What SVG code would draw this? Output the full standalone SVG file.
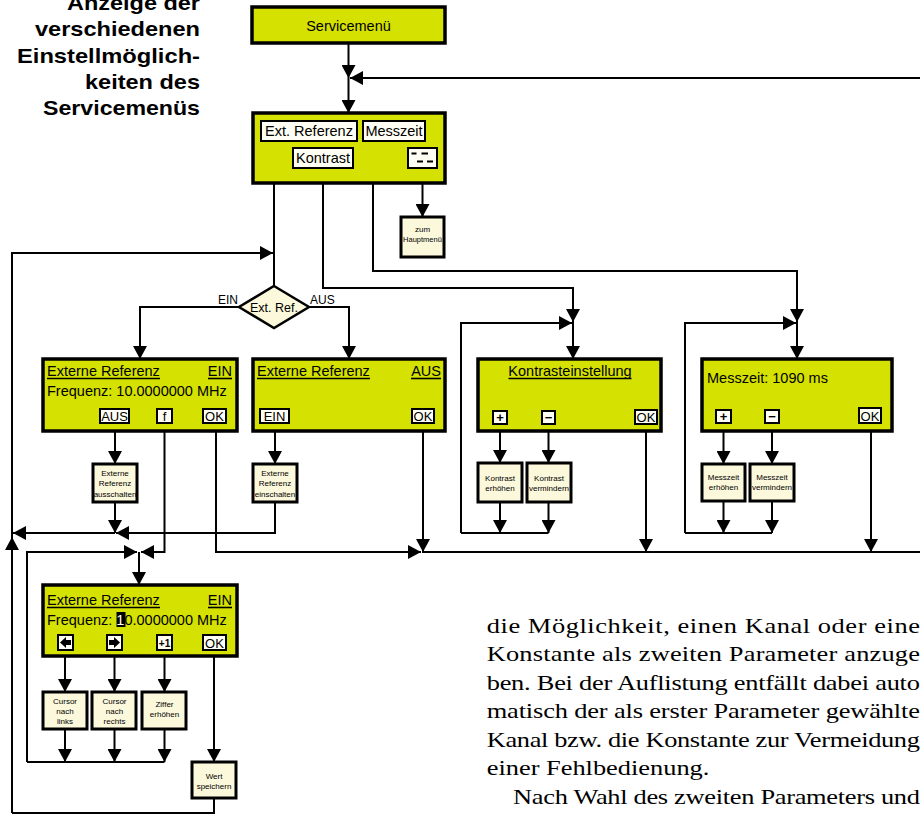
<svg xmlns="http://www.w3.org/2000/svg" width="920" height="814" viewBox="0 0 920 814">
<style>
.ln{fill:none;stroke:#000;stroke-width:2}
.ar{marker-end:url(#a)}
.lcd{fill:#d5e100;stroke:#000;stroke-width:3.5}
.sub{fill:#fcf8dc;stroke:#000;stroke-width:3}
.btn{fill:#fffef4;stroke:#000;stroke-width:2}
.t{font-family:"Liberation Sans",Arial,sans-serif;font-size:14.5px;fill:#000}
.b{font-size:13px;text-anchor:middle}
.s{font-family:"Liberation Sans",Arial,sans-serif;font-size:8px;text-anchor:middle;fill:#000}
.m{text-anchor:middle}
.e{text-anchor:end}
.ul{stroke:#000;stroke-width:1.6}
.ttl{font-family:"Liberation Sans",Arial,sans-serif;font-weight:bold;font-size:21px;text-anchor:end;fill:#000}
.par{font-family:"Liberation Serif","Times New Roman",serif;font-size:22px;fill:#000}
</style>
<defs>
<marker id="a" viewBox="0 0 13 14" refX="13" refY="7" markerWidth="13" markerHeight="14" markerUnits="userSpaceOnUse" orient="auto"><path d="M0,0 L13,7 L0,14 Z" fill="#000"/></marker>
</defs>
<rect width="920" height="814" fill="#fff"/>

<g id="caption">
<text class="ttl" x="200" y="9.5" textLength="133" lengthAdjust="spacingAndGlyphs">Anzeige der</text>
<text class="ttl" x="200" y="36" textLength="165" lengthAdjust="spacingAndGlyphs">verschiedenen</text>
<text class="ttl" x="200" y="62.5" textLength="183" lengthAdjust="spacingAndGlyphs">Einstellmöglich-</text>
<text class="ttl" x="200" y="89" textLength="115" lengthAdjust="spacingAndGlyphs">keiten des</text>
<text class="ttl" x="200" y="115" textLength="157" lengthAdjust="spacingAndGlyphs">Servicemenüs</text>
</g>

<g id="connectors">
<path class="ln ar" d="M348.5,43 V78"/>
<path class="ln ar" d="M920,78 H350"/>
<path class="ln ar" d="M348.5,78 V113"/>
<path class="ln ar" d="M274,141 V183"/>
<path class="ln ar" d="M323,168 V183"/>
<path class="ln ar" d="M373,141 V183"/>
<path class="ln ar" d="M422.5,168 V183"/>
<path class="ln" d="M274,183 V286"/>
<path class="ln ar" d="M12,813 V537"/>
<path class="ln ar" d="M12,537 V253 H273"/>
<path class="ln ar" d="M323,183 V288 H573 V322"/>
<path class="ln ar" d="M373,183 V271 H797 V322"/>
<path class="ln ar" d="M422.5,183 V217"/>
<path class="ln ar" d="M461,533 V323 H572"/>
<path class="ln ar" d="M573,322 V359"/>
<path class="ln ar" d="M685,533 V323 H796"/>
<path class="ln ar" d="M797,322 V359"/>
<path class="ln ar" d="M239,307 H140 V359"/>
<path class="ln ar" d="M309,307 H349 V359"/>
<path class="ln ar" d="M115,423 V464"/>
<path class="ln ar" d="M115,502 V533"/>
<path class="ln ar" d="M275,502 V533 H116"/>
<path class="ln ar" d="M115,533 H13"/>
<path class="ln ar" d="M164.5,423 V552 H141"/>
<path class="ln ar" d="M27,762 V552 H137"/>
<path class="ln ar" d="M139,552 V585"/>
<path class="ln ar" d="M216,423 V552 H421"/>
<path class="ln" d="M422,552 H920"/>
<path class="ln ar" d="M275,423 V464"/>
<path class="ln ar" d="M423,423 V552"/>
<path class="ln ar" d="M500,424 V463"/>
<path class="ln ar" d="M548.5,424 V463"/>
<path class="ln ar" d="M500,502 V533"/>
<path class="ln ar" d="M548.5,502 V533"/>
<path class="ln" d="M461,533 H548.5"/>
<path class="ln ar" d="M646,424 V552"/>
<path class="ln ar" d="M723.5,423 V464"/>
<path class="ln ar" d="M772,423 V464"/>
<path class="ln ar" d="M723.5,501 V533"/>
<path class="ln ar" d="M772,501 V533"/>
<path class="ln" d="M685,533 H772"/>
<path class="ln ar" d="M871,423 V552"/>
<path class="ln ar" d="M65,650 V692"/>
<path class="ln ar" d="M114.5,650 V692"/>
<path class="ln ar" d="M164.5,650 V692"/>
<path class="ln ar" d="M214,650 V762"/>
<path class="ln ar" d="M65,729 V762"/>
<path class="ln ar" d="M114.5,729 V762"/>
<path class="ln ar" d="M164.5,729 V762"/>
<path class="ln" d="M27,762 H164.5"/>
<path class="ln" d="M214,798 V813 H12"/>
</g>

<g id="servicemenue">
<rect class="lcd" x="252" y="7" width="193" height="36"/>
<text class="t m" x="348.5" y="30.5">Servicemenü</text>
</g>

<g id="servicemenue-auswahl">
<rect class="lcd" x="253" y="113" width="192" height="70"/>
<rect class="btn" x="261" y="121" width="96" height="20"/>
<text class="t m" x="309" y="136">Ext. Referenz</text>
<rect class="btn" x="363" y="121" width="62" height="20"/>
<text class="t m" x="394" y="136">Messzeit</text>
<rect class="btn" x="293" y="148" width="60" height="20"/>
<text class="t m" x="323" y="163">Kontrast</text>
<rect class="btn" x="408" y="148" width="29" height="20"/>
<path d="M411.5,153.5 H416.5 M421.5,153.5 H428 M417,161.5 H423 M427,161.5 H433" stroke="#000" stroke-width="2"/>
</g>

<g id="zum-hauptmenue">
<rect class="sub" x="401" y="217" width="43" height="40"/>
<text class="s" x="422.5" y="232" font-size="7.5">zum</text>
<text class="s" x="422.5" y="242" style="font-size:7.5px">Hauptmenü</text>
</g>

<g id="ext-ref-entscheidung">
<polygon points="274,286 309,307 274,328 239,307" fill="#fcf8dc" stroke="#000" stroke-width="2.5"/>
<text class="t m" x="274" y="312" style="font-size:12.5px">Ext. Ref.</text>
<text class="t e" x="238" y="304" style="font-size:12px">EIN</text>
<text class="t" x="310" y="304" style="font-size:12px">AUS</text>
</g>

<g id="ext-ref-ein">
<rect class="lcd" x="43" y="359" width="194" height="72"/>
<text class="t" x="47" y="376">Externe Referenz</text>
<line class="ul" x1="47" y1="378.5" x2="160" y2="378.5"/>
<text class="t e" x="232" y="376">EIN</text>
<line class="ul" x1="208" y1="378.5" x2="232" y2="378.5"/>
<text class="t" x="47" y="396">Frequenz: 10.0000000 MHz</text>
<rect class="btn" x="100" y="409" width="29" height="14"/>
<text class="t b" x="114.5" y="421">AUS</text>
<rect class="btn" x="157" y="409" width="15" height="14"/>
<text class="t b" x="164.5" y="421">f</text>
<rect class="btn" x="203" y="409" width="23" height="14"/>
<text class="t b" x="214.5" y="421">OK</text>
</g>

<g id="ext-ref-ausschalten">
<rect class="sub" x="93" y="464" width="44" height="38"/>
<text class="s" x="115" y="475.5">Externe</text>
<text class="s" x="115" y="486">Referenz</text>
<text class="s" x="115" y="496.5">ausschalten</text>
</g>

<g id="ext-ref-aus">
<rect class="lcd" x="253" y="359" width="192" height="72"/>
<text class="t" x="257" y="376">Externe Referenz</text>
<line class="ul" x1="257" y1="378.5" x2="370" y2="378.5"/>
<text class="t e" x="441" y="376">AUS</text>
<line class="ul" x1="411" y1="378.5" x2="441" y2="378.5"/>
<rect class="btn" x="260" y="409" width="29" height="14"/>
<text class="t b" x="274.5" y="421">EIN</text>
<rect class="btn" x="412" y="409" width="22" height="14"/>
<text class="t b" x="423" y="421">OK</text>
</g>

<g id="ext-ref-einschalten">
<rect class="sub" x="253" y="464" width="44" height="38"/>
<text class="s" x="275" y="475.5">Externe</text>
<text class="s" x="275" y="486">Referenz</text>
<text class="s" x="275" y="496.5">einschalten</text>
</g>

<g id="kontrasteinstellung">
<rect class="lcd" x="478" y="359" width="183" height="72"/>
<text class="t m" x="570" y="376">Kontrasteinstellung</text>
<line class="ul" x1="508.5" y1="378.5" x2="631.5" y2="378.5"/>
<rect class="btn" x="493" y="411" width="14" height="13"/>
<text class="t b" x="500" y="422" font-weight="bold">+</text>
<rect class="btn" x="542" y="411" width="13" height="13"/>
<text class="t b" x="548.5" y="422" font-weight="bold">−</text>
<rect class="btn" x="635" y="410" width="22" height="14"/>
<text class="t b" x="646" y="422">OK</text>
</g>

<g id="kontrast-erhoehen">
<rect class="sub" x="478" y="463" width="44" height="39"/>
<text class="s" x="500" y="480.5">Kontrast</text>
<text class="s" x="500" y="490.5">erhöhen</text>
</g>

<g id="kontrast-vermindern">
<rect class="sub" x="527" y="463" width="44" height="39"/>
<text class="s" x="549" y="480.5">Kontrast</text>
<text class="s" x="549" y="490.5">vermindern</text>
</g>

<g id="messzeit">
<rect class="lcd" x="702" y="359" width="190" height="72"/>
<text class="t" x="707" y="383">Messzeit: 1090 ms</text>
<rect class="btn" x="716" y="410" width="15" height="13"/>
<text class="t b" x="723.5" y="421" font-weight="bold">+</text>
<rect class="btn" x="765" y="410" width="14" height="13"/>
<text class="t b" x="772" y="421" font-weight="bold">−</text>
<rect class="btn" x="859" y="408" width="22" height="15"/>
<text class="t b" x="870" y="420.5">OK</text>
</g>

<g id="messzeit-erhoehen">
<rect class="sub" x="702" y="464" width="43" height="37"/>
<text class="s" x="723.5" y="480">Messzeit</text>
<text class="s" x="723.5" y="490">erhöhen</text>
</g>

<g id="messzeit-vermindern">
<rect class="sub" x="750" y="464" width="44" height="37"/>
<text class="s" x="772" y="480">Messzeit</text>
<text class="s" x="772" y="490">vermindern</text>
</g>

<g id="frequenz-eingabe">
<rect class="lcd" x="43" y="585" width="194" height="71"/>
<text class="t" x="47" y="605">Externe Referenz</text>
<line class="ul" x1="47" y1="607.5" x2="160" y2="607.5"/>
<text class="t e" x="232" y="605">EIN</text>
<line class="ul" x1="208" y1="607.5" x2="232" y2="607.5"/>
<rect x="116.5" y="612" width="9" height="15" fill="#000"/>
<text class="t" x="47" y="625">Frequenz: <tspan fill="#fff">1</tspan>0.0000000 MHz</text>
<rect class="btn" x="58" y="635" width="15" height="15"/>
<path d="M60,642.5 L66,637 V640 H71 V645 H66 V648 Z" fill="#000"/>
<rect class="btn" x="107" y="635" width="15" height="15"/>
<path d="M120,642.5 L114,637 V640 H109 V645 H114 V648 Z" fill="#000"/>
<rect class="btn" x="157" y="635" width="15" height="15"/>
<text class="t b" x="164.5" y="646.5" style="font-size:10px" font-weight="bold">+1</text>
<rect class="btn" x="203" y="635" width="23" height="15"/>
<text class="t b" x="214.5" y="647.5">OK</text>
</g>

<g id="cursor-links">
<rect class="sub" x="43" y="692" width="44" height="37"/>
<text class="s" x="65" y="703.5">Cursor</text>
<text class="s" x="65" y="713.5">nach</text>
<text class="s" x="65" y="723.5">links</text>
</g>
<g id="cursor-rechts">
<rect class="sub" x="92" y="692" width="44" height="37"/>
<text class="s" x="114.5" y="703.5">Cursor</text>
<text class="s" x="114.5" y="713.5">nach</text>
<text class="s" x="114.5" y="723.5">rechts</text>
</g>
<g id="ziffer-erhoehen">
<rect class="sub" x="142" y="692" width="44" height="37"/>
<text class="s" x="164.5" y="707">Ziffer</text>
<text class="s" x="164.5" y="717">erhöhen</text>
</g>
<g id="wert-speichern">
<rect class="sub" x="192" y="762" width="44" height="36"/>
<text class="s" x="214" y="778.5">Wert</text>
<text class="s" x="214" y="788.5">speichern</text>
</g>

<g id="fliesstext" class="par">
<g transform="translate(486.7 0) scale(1.2 1)">
<text x="0" y="633" textLength="361" lengthAdjust="spacing">die Möglichkeit, einen Kanal oder eine</text>
<text x="0" y="661.5" textLength="361" lengthAdjust="spacing">Konstante als zweiten Parameter anzuge</text>
<text x="0" y="690" textLength="361" lengthAdjust="spacing">ben. Bei der Auflistung entfällt dabei auto</text>
<text x="0" y="718.5" textLength="361" lengthAdjust="spacing">matisch der als erster Parameter gewählte</text>
<text x="0" y="747" textLength="361" lengthAdjust="spacing">Kanal bzw. die Konstante zur Vermeidung</text>
<text x="0" y="775.5">einer Fehlbedienung.</text>
<text x="22" y="804" textLength="339" lengthAdjust="spacing">Nach Wahl des zweiten Parameters und</text>
</g>
</g>
</svg>
